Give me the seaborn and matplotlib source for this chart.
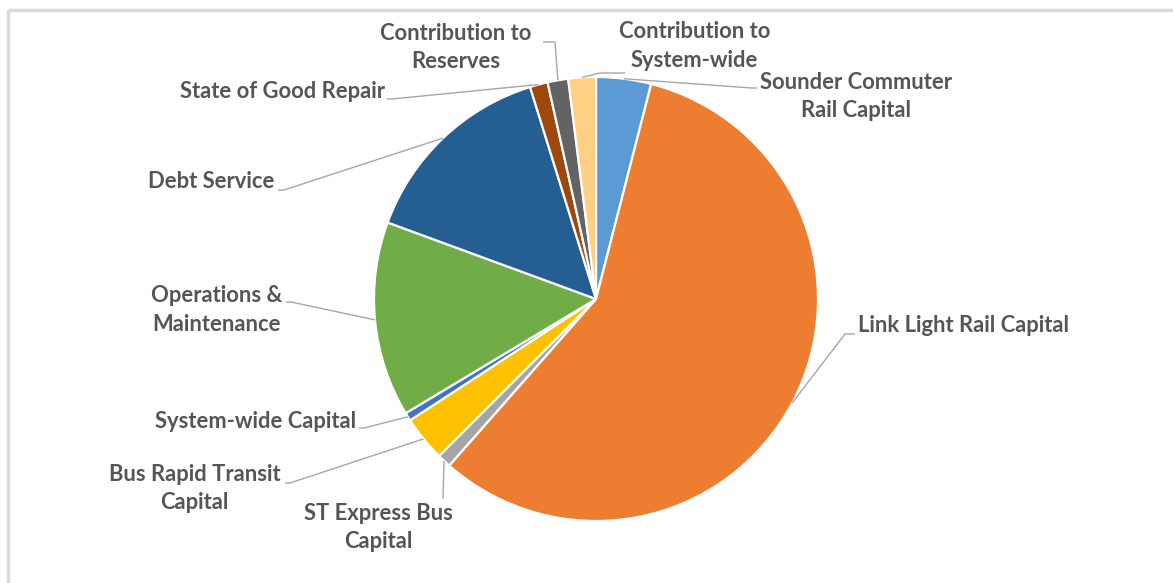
import numpy as np
import matplotlib
matplotlib.use("Agg")
import matplotlib.pyplot as plt
import seaborn as sns
from matplotlib.patches import Rectangle

# ---- data ----
categories = ["Sounder Commuter Rail Capital", "Link Light Rail Capital",
              "ST Express Bus Capital", "Bus Rapid Transit Capital",
              "System-wide Capital", "Operations & Maintenance", "Debt Service",
              "State of Good Repair", "Contribution to Reserves",
              "Contribution to System-wide"]
label_texts = ["Sounder Commuter\nRail Capital", "Link Light Rail Capital",
               "ST Express Bus\nCapital", "Bus Rapid Transit\nCapital",
               "System-wide Capital", "Operations &\nMaintenance", "Debt Service",
               "State of Good Repair", "Contribution to\nReserves",
               "Contribution to\nSystem-wide"]
shares = [4.0, 57.5, 1.0, 3.3, 0.6, 14.2, 14.6, 1.3, 1.5, 2.0]
slice_colors = ["#5B9BD5", "#ED7D31", "#A5A5A5", "#FFC000", "#4472C4",
                "#70AD47", "#255E91", "#9E480E", "#636363", "#FFCF84"]

# ---- layout (pixel coordinates, origin top-left) ----
W, H = 1173, 583
CX, CY, R = 596, 299, 222
# text anchor (x, y), ha, leader path points after the wedge edge point
label_layout = {
    "Sounder Commuter Rail Capital": ((856, 96.5), "center", [(752, 88), (757, 88)]),
    "Link Light Rail Capital": ((858, 325), "left", [(845, 334), (855, 334)]),
    "ST Express Bus Capital": ((378.5, 527.5), "center", [(443, 499)]),
    "Bus Rapid Transit Capital": ((194.5, 488.5), "center", [(290, 483), (285, 483)]),
    "System-wide Capital": ((356, 421), "right", [(364, 428), (359, 428)]),
    "Operations & Maintenance": ((216.5, 310), "center", [(291, 302), (286, 302)]),
    "Debt Service": ((274, 182), "right", [(284, 190), (278, 190)]),
    "State of Good Repair": ((385, 92), "right", [(392, 99), (387, 99)]),
    "Contribution to Reserves": ((456, 47.5), "center", [(555, 42), (543, 42)]),
    "Contribution to System-wide": ((694.5, 46), "center", [(600, 73), (625, 73)]),
}

sns.set_style("white")
plt.rcParams["font.family"] = ["Lato", "DejaVu Sans"]

fig = plt.figure(figsize=(W / 100, H / 100), dpi=100)
fig.patch.set_facecolor("white")
ax = fig.add_axes([0, 0, 1, 1])

palette = sns.color_palette(slice_colors)
ax.pie(shares, colors=palette, startangle=270, counterclock=True,
       center=(CX, CY), radius=R,
       wedgeprops=dict(edgecolor="white", linewidth=1.6))

ax.set_xlim(0, W)
ax.set_ylim(H, 0)
ax.set_aspect("auto")
ax.axis("off")

total = float(sum(shares))
cum = np.cumsum(shares) - np.array(shares) / 2.0
for name, txt, c in zip(categories, label_texts, cum):
    theta = np.deg2rad(270 + 360.0 * c / total)
    sx, sy = CX + R * np.cos(theta), CY + R * np.sin(theta)
    (tx, ty), ha, pts = label_layout[name]
    xs = [sx] + [p[0] for p in pts]
    ys = [sy] + [p[1] for p in pts]
    ax.plot(xs, ys, color="#A6A6A6", lw=1.0, solid_capstyle="butt", zorder=1)
    ax.text(tx, ty, txt, ha=ha, va="center", multialignment="center",
            fontsize=15.8, fontweight="bold", color="#555555", linespacing=1.43)

# chart border
ax.add_patch(Rectangle((7.5, 9.5), W + 20, H + 20, fill=False,
                       edgecolor="#D9D9D9", lw=2.5, zorder=0, clip_on=False))

fig.savefig("out.png", dpi=100, facecolor="white")
